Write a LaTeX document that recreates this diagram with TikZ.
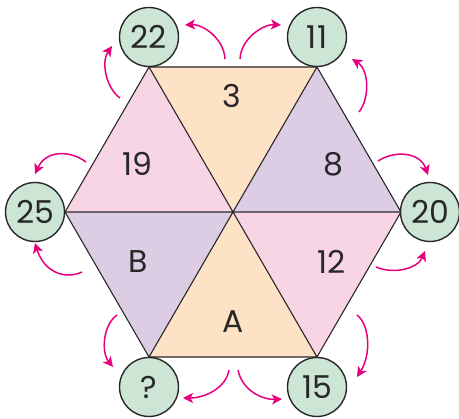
\documentclass[tikz,border=0pt]{standalone}
\usepackage{fontspec}
\setmainfont{Poppins}
\usetikzlibrary{arrows.meta}
\definecolor{circfill}{RGB}{204,229,212}
\definecolor{peach}{RGB}{253,226,198}
\definecolor{pinkt}{RGB}{248,213,229}
\definecolor{lilac}{RGB}{220,205,228}
\definecolor{magenta}{RGB}{230,0,126}
\definecolor{ink}{RGB}{40,40,40}
\begin{document}
\begin{tikzpicture}[x=1pt,y=-1pt,
  numcirc/.style={circle,draw=ink,line width=1.4pt,fill=circfill,minimum size=59pt,inner sep=0pt,font=\fontsize{31.5}{31.5}\selectfont,text=ink},
  trilabel/.style={inner sep=0pt,font=\fontsize{31.5}{31.5}\selectfont,text=ink},
  edge/.style={draw=ink,line width=1.1pt,line join=round},
  curvearrow/.style={draw=magenta,line width=1.5pt,-{Stealth[length=10pt,width=10pt,inset=2.5pt]}}]
\useasboundingbox (0,0) rectangle (459,419);
% hexagon
\coordinate (O) at (233,212);
\coordinate (VTL) at (149,67);
\coordinate (VTR) at (317,67);
\coordinate (VR) at (401,212);
\coordinate (VBR) at (317,357);
\coordinate (VBL) at (149,357);
\coordinate (VL) at (65,212);
\fill[peach] (O) -- (VTL) -- (VTR) -- cycle;
\fill[lilac] (O) -- (VTR) -- (VR) -- cycle;
\fill[pinkt] (O) -- (VR) -- (VBR) -- cycle;
\fill[peach] (O) -- (VBR) -- (VBL) -- cycle;
\fill[lilac] (O) -- (VBL) -- (VL) -- cycle;
\fill[pinkt] (O) -- (VL) -- (VTL) -- cycle;
\path[edge] (VTL) -- (VTR) -- (VR) -- (VBR) -- (VBL) -- (VL) -- cycle;
\path[edge] (VTL) -- (VBR) (VTR) -- (VBL) (VL) -- (VR);
% triangle labels
\node[trilabel] (t3) at (232,96) {3};
\node[trilabel] (t19) at (137,164) {19};
\node[trilabel] (t8) at (333,164) {8};
\node[trilabel] (t12) at (332,262) {12};
\node[trilabel] (tA) at (233,322) {A};
\node[trilabel] (tB) at (138,262) {B};
% circles
\node[numcirc] (c22) at (149,37) {22};
\node[numcirc] (c11) at (317,37) {11};
\node[numcirc] (c25) at (35,212) {25};
\node[numcirc] (c20) at (430,212) {20};
\node[numcirc] (cq) at (149,387) {?};
\node[numcirc] (c15) at (317,387) {15};
% arrows
\coordinate (a1s) at (225,59); \coordinate (a1e) at (185,25);
\coordinate (a2s) at (240,59); \coordinate (a2e) at (281,25);
\coordinate (a3s) at (120,98); \coordinate (a3e) at (112,46);
\coordinate (a4s) at (359,112); \coordinate (a4e) at (352,59);
\coordinate (a5s) at (86,162); \coordinate (a5e) at (35,174);
\coordinate (a6s) at (82,272); \coordinate (a6e) at (35,243);
\coordinate (a7s) at (378,161); \coordinate (a7e) at (428,175);
\coordinate (a8s) at (376,267); \coordinate (a8e) at (425,251);
\coordinate (a9s) at (117,315); \coordinate (a9e) at (113,367);
\coordinate (a10s) at (357,315); \coordinate (a10e) at (357,377);
\coordinate (a11s) at (229,370); \coordinate (a11e) at (183,398);
\coordinate (a12s) at (238,370); \coordinate (a12e) at (282,399);
\path[curvearrow] (a1s) .. controls (224,38) and (202,24) .. (a1e);
\path[curvearrow] (a2s) .. controls (241,38) and (264,24) .. (a2e);
\path[curvearrow] (a3s) .. controls (106,88) and (101,62) .. (a3e);
\path[curvearrow] (a4s) .. controls (370,98) and (369,70) .. (a4e);
\path[curvearrow] (a5s) .. controls (70,150) and (46,150) .. (a5e);
\path[curvearrow] (a6s) .. controls (65,280) and (44,272) .. (a6e);
\path[curvearrow] (a7s) .. controls (395,150) and (420,152) .. (a7e);
\path[curvearrow] (a8s) .. controls (395,275) and (418,268) .. (a8e);
\path[curvearrow] (a9s) .. controls (103,325) and (101,352) .. (a9e);
\path[curvearrow] (a10s) .. controls (370,325) and (371,355) .. (a10e);
\path[curvearrow] (a11s) .. controls (226,388) and (205,398) .. (a11e);
\path[curvearrow] (a12s) .. controls (242,390) and (262,400) .. (a12e);
\end{tikzpicture}
\end{document}
